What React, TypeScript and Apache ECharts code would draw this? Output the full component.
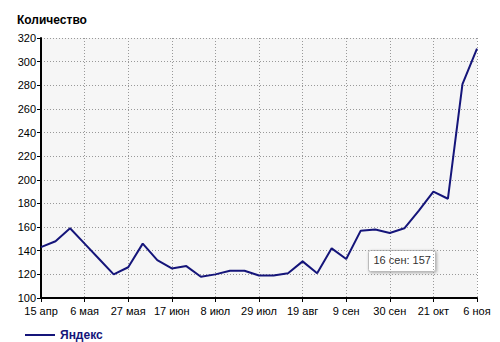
import React, { useEffect, useRef } from "react";
import * as echarts from "echarts";

const categories = [
  "15 апр", "22 апр", "29 апр", "6 мая", "13 мая", "20 мая", "27 мая", "3 июн", "10 июн",
  "17 июн", "24 июн", "1 июл", "8 июл", "15 июл", "22 июл", "29 июл", "5 авг", "12 авг",
  "19 авг", "26 авг", "2 сен", "9 сен", "16 сен", "23 сен", "30 сен", "7 окт", "14 окт",
  "21 окт", "28 окт", "1 ноя", "6 ноя",
];
const yandex = [
  143, 148, 159, 146, 133, 120, 126, 146, 132, 125, 127, 118, 120, 123, 123, 119, 119,
  121, 131, 121, 142, 133, 157, 158, 155, 159, 174, 190, 184, 281, 311,
];
const seriesName = "Яндекс";
const yTitle = "Количество";
const tooltipText = "16 сен: 157";

export default function App() {
  const ref = useRef<HTMLDivElement>(null);
  useEffect(() => {
    const chart = echarts.init(ref.current!, null, { renderer: "svg" });
    const font = "Arial, 'Liberation Sans', sans-serif";
    const lineColor = "#15157a";
    chart.setOption({
      animation: false,
      textStyle: { fontFamily: font },
      title: {
        text: yTitle,
        left: 12,
        top: 9,
        textStyle: { fontSize: 12, fontWeight: "bold", color: "#000", fontFamily: font },
      },
      legend: {
        data: [seriesName],
        left: 20,
        top: 324,
        icon: "rect",
        itemWidth: 30,
        itemHeight: 2,
        itemGap: 8,
        textStyle: { fontSize: 12, fontWeight: "bold", color: lineColor, fontFamily: font },
      },
      grid: {
        left: 41,
        right: 23,
        top: 38,
        bottom: 44,
        show: true,
        backgroundColor: "#f6f6f6",
        borderWidth: 0,
      },
      xAxis: {
        type: "category",
        data: categories,
        boundaryGap: false,
        axisLine: { lineStyle: { color: "#000", width: 2 } },
        axisTick: { interval: 2, length: 4, lineStyle: { color: "#000" } },
        axisLabel: { interval: 2, fontSize: 11, color: "#000", margin: 7, fontFamily: font },
        splitLine: { show: true, interval: 2, lineStyle: { color: "#999", type: [1, 2] } },
      },
      yAxis: {
        type: "value",
        min: 100,
        max: 320,
        interval: 20,
        axisLine: { show: true, lineStyle: { color: "#000", width: 2 } },
        axisTick: { show: true, length: 4, lineStyle: { color: "#000" } },
        axisLabel: { fontSize: 11, color: "#000", margin: 5, fontFamily: font },
        splitLine: { show: true, lineStyle: { color: "#999", type: [1, 2] } },
      },
      series: [
        {
          name: seriesName,
          type: "line",
          data: yandex,
          symbol: "none",
          lineStyle: { color: lineColor, width: 2 },
          itemStyle: { color: lineColor },
        },
      ],
      graphic: [
        {
          type: "group",
          left: 368,
          top: 250,
          children: [
            {
              type: "rect",
              shape: { x: 0, y: 0, width: 67, height: 21, r: 2 },
              style: { fill: "#fff", stroke: "#bbb", lineWidth: 1, shadowBlur: 3, shadowColor: "rgba(0,0,0,0.3)", shadowOffsetX: 1, shadowOffsetY: 1 },
            },
            {
              type: "text",
              x: 5,
              y: 4,
              style: { text: tooltipText, fontSize: 11, fill: "#333", fontFamily: font },
            },
          ],
        },
      ],
    });
    return () => chart.dispose();
  }, []);
  return <div ref={ref} style={{ width: 500, height: 342, position: "absolute", left: 0, top: 0 }} />;
}
